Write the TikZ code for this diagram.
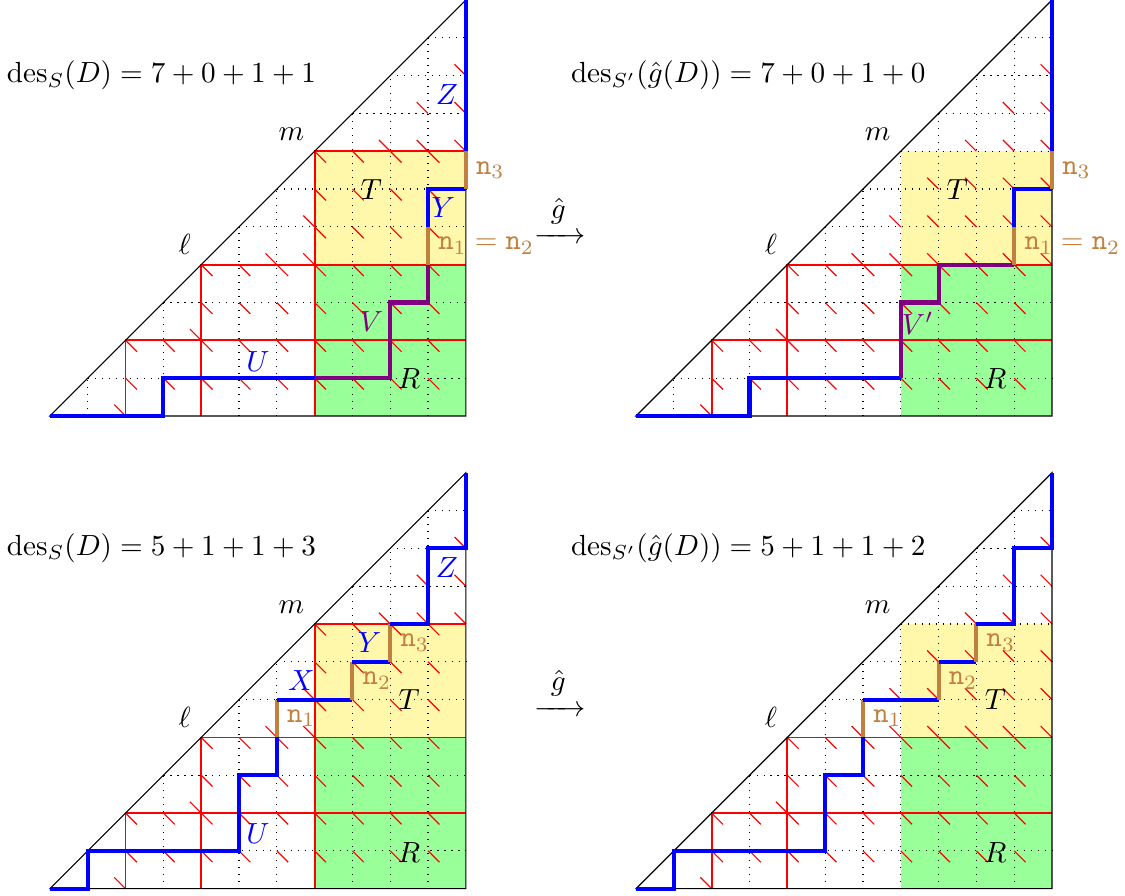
\documentclass[tikz,border=0pt]{standalone}
\usepackage{xcolor}
\usepackage{amsmath}
\usepackage{tikz}
\usetikzlibrary{positioning, arrows.meta}

\definecolor{tyellow}{RGB}{255,247,170}
\definecolor{rgreen}{RGB}{153,255,153}

\newcommand{\dyckgrid}[1]{%
  \fill[rgreen] (7,0) rectangle (11,4);
  \fill[tyellow] (7,4) rectangle (11,7);
  \foreach \i in {1,...,10} {
    \draw[gridline] (\i,0) -- (\i,\i);
    \draw[gridline] (\i,\i) -- (11,\i);
  }
  \foreach \lo/\hi in {#1} {
    \ifnum\lo>0 \draw[blockline] (\lo,0) -- (\lo,\lo) -- (11,\lo); \fi
    \pgfmathtruncatemacro\last{\hi-1}
    \foreach \cc in {\lo,...,\last} {
      \foreach \rr in {0,...,\cc} {
        \ifnum\rr<\lo \draw[desmark] (\cc,\rr+1) -- ++(0.3,-0.3);
        \else\ifnum\rr<\cc \draw[desmark] (\cc+1,\rr) -- ++(-0.3,0.3); \fi\fi
      }
    }
  }
  \draw[thin] (0,0) -- (11,0) -- (11,11) -- cycle;
}

\begin{document}
\begin{tikzpicture}[
    x=0.456cm, y=0.456cm,
    gridline/.style={dotted, thin},
    blockline/.style={red, line width=0.6pt},
    desmark/.style={red, thin},
    upath/.style={blue, line width=1.4pt},
    vpath/.style={violet, line width=1.4pt},
    npath/.style={brown, line width=1.4pt}
]
\useasboundingbox (-1.32,-0.185) rectangle (28.43,23.5);

\begin{scope}[shift={(0,12.5)}]
\dyckgrid{0/2,2/4,4/7,7/11}
\draw[upath] (0,0) -- (3,0) -- (3,1) -- (7,1);
\draw[vpath] (7,1) -- (9,1) -- (9,3) -- (10,3) -- (10,4);
\draw[npath] (10,4) -- (10,5);
\draw[upath] (10,5) -- (10,6) -- (11,6);
\draw[npath] (11,6) -- (11,7);
\draw[upath] (11,7) -- (11,11);
\node (desA) at (2.95,9) {$\mathrm{des}_S(D)=7+0+1+1$};
\node[above left] (ellA) at (4,4) {$\ell$};
\node[above left] (mA) at (7,7) {$m$};
\node (tA) at (8.5,6) {$T$};
\node (rA) at (9.5,1) {$R$};
\node[blue] (uA) at (5.5,1.45) {$U$};
\node[violet] (vA) at (8.5,2.5) {$V$};
\node[blue] (yA) at (10.4,5.5) {$Y$};
\node[blue] (zA) at (10.5,8.5) {$Z$};
\node[right, brown] (nA) at (10,4.5) {$\mathtt{n}_1=\mathtt{n}_2$};
\node[right, brown] (nnA) at (11,6.5) {$\mathtt{n}_3$};
\node (gA) at (13.5,5.2) {$\xrightarrow{\hspace{3pt}\raisebox{3pt}{$\hat{g}$}\hspace{3pt}}$};
\end{scope}

\begin{scope}[shift={(15.5,12.5)}]
\dyckgrid{0/2,2/4,4/11}
\draw[upath] (0,0) -- (3,0) -- (3,1) -- (7,1);
\draw[vpath] (7,1) -- (7,3) -- (8,3) -- (8,4) -- (10,4);
\draw[npath] (10,4) -- (10,5);
\draw[upath] (10,5) -- (10,6) -- (11,6);
\draw[npath] (11,6) -- (11,7);
\draw[upath] (11,7) -- (11,11);
\node (desB) at (2.97,9) {$\mathrm{des}_{S'}(\hat{g}(D))=7+0+1+0$};
\node[above left] (ellB) at (4,4) {$\ell$};
\node[above left] (mB) at (7,7) {$m$};
\node (tB) at (8.5,6) {$T$};
\node (rB) at (9.5,1) {$R$};
\node[violet] (vB) at (7.45,2.45) {$V'$};
\node[right, brown] (nB) at (10,4.5) {$\mathtt{n}_1=\mathtt{n}_2$};
\node[right, brown] (nnB) at (11,6.5) {$\mathtt{n}_3$};
\end{scope}

\begin{scope}
\dyckgrid{0/2,2/4,4/7,7/11}
\draw[upath] (0,0) -- (1,0) -- (1,1) -- (5,1) -- (5,3) -- (6,3) -- (6,4);
\draw[npath] (6,4) -- (6,5);
\draw[upath] (6,5) -- (8,5);
\draw[npath] (8,5) -- (8,6);
\draw[upath] (8,6) -- (9,6);
\draw[npath] (9,6) -- (9,7);
\draw[upath] (9,7) -- (10,7) -- (10,9) -- (11,9) -- (11,11);
\node (desC) at (2.95,9) {$\mathrm{des}_S(D)=5+1+1+3$};
\node[above left] (ellC) at (4,4) {$\ell$};
\node[above left] (mC) at (7,7) {$m$};
\node (tC) at (9.5,5) {$T$};
\node (rC) at (9.5,0.95) {$R$};
\node[blue] (uC) at (5.5,1.45) {$U$};
\node[blue] (xC) at (6.65,5.5) {$X$};
\node[blue] (yC) at (8.45,6.5) {$Y$};
\node[blue] (zC) at (10.5,8.5) {$Z$};
\node[right, brown] (n1C) at (6,4.5) {$\mathtt{n}_1$};
\node[right, brown] (n2C) at (8,5.5) {$\mathtt{n}_2$};
\node[right, brown] (n3C) at (9,6.5) {$\mathtt{n}_3$};
\node (gC) at (13.5,5.2) {$\xrightarrow{\hspace{3pt}\raisebox{3pt}{$\hat{g}$}\hspace{3pt}}$};
\end{scope}

\begin{scope}[shift={(15.5,0)}]
\dyckgrid{0/2,2/4,4/11}
\draw[upath] (0,0) -- (1,0) -- (1,1) -- (5,1) -- (5,3) -- (6,3) -- (6,4);
\draw[npath] (6,4) -- (6,5);
\draw[upath] (6,5) -- (8,5);
\draw[npath] (8,5) -- (8,6);
\draw[upath] (8,6) -- (9,6);
\draw[npath] (9,6) -- (9,7);
\draw[upath] (9,7) -- (10,7) -- (10,9) -- (11,9) -- (11,11);
\node (desD) at (2.97,9) {$\mathrm{des}_{S'}(\hat{g}(D))=5+1+1+2$};
\node[above left] (ellD) at (4,4) {$\ell$};
\node[above left] (mD) at (7,7) {$m$};
\node (tD) at (9.5,5) {$T$};
\node (rD) at (9.5,0.95) {$R$};
\node[right, brown] (n1D) at (6,4.5) {$\mathtt{n}_1$};
\node[right, brown] (n2D) at (8,5.5) {$\mathtt{n}_2$};
\node[right, brown] (n3D) at (9,6.5) {$\mathtt{n}_3$};
\end{scope}
\end{tikzpicture}
\end{document}
